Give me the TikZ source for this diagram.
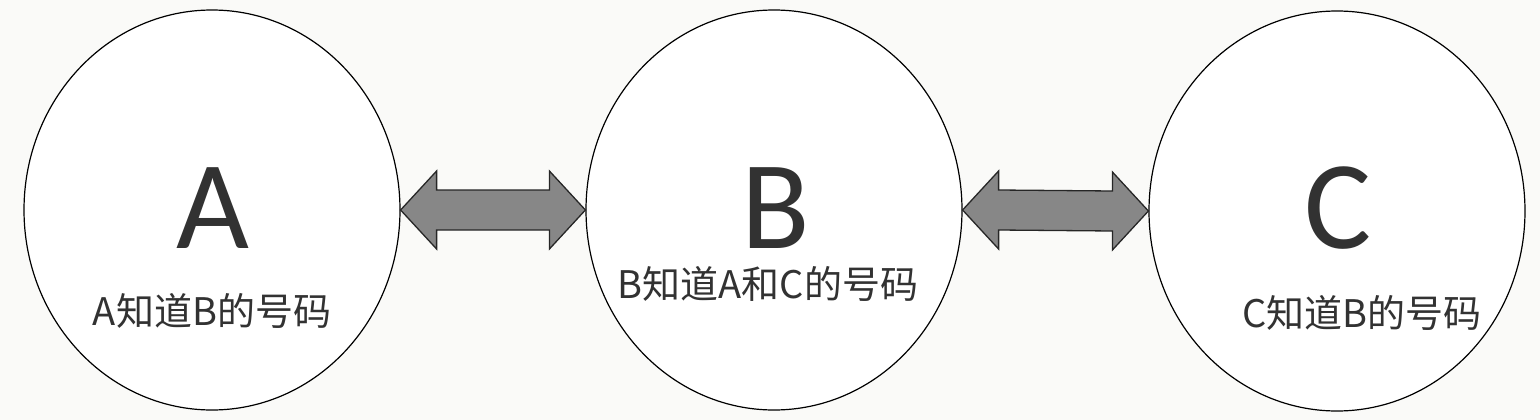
\documentclass[tikz,border=0pt]{standalone}
\usepackage{fontspec}
\setmainfont{Carlito}
\newfontfamily\cjk{Noto Sans CJK SC}
\usetikzlibrary{shapes.geometric}

\definecolor{paper}{RGB}{250,250,248}
\definecolor{inkgray}{RGB}{50,50,50}
\definecolor{arrowgray}{RGB}{135,135,135}

\tikzset{
    person/.style={draw=black, ellipse, line width=1.2pt, fill=white, minimum width=376pt, minimum height=400pt, inner sep=0pt},
    bigletter/.style={inner sep=0pt, text=inkgray, font=\fontsize{126}{126}\selectfont},
    knows/.style={inner sep=0pt, text=inkgray, font=\cjk\fontsize{38}{38}\selectfont},
    linkarrow/.style={draw=black!85, line width=1.3pt, fill=arrowgray, line join=miter}
}

% fat double arrow from the east side of #1 to the west side of #2
\newcommand{\phonelink}[2]{%
    \draw[linkarrow] (#1.east) -- ([shift={(36,-39)}]#1.east) -- ([shift={(36,-20)}]#1.east)
        -- ([shift={(-36,-20)}]#2.west) -- ([shift={(-36,-39)}]#2.west) -- (#2.west)
        -- ([shift={(-36,39)}]#2.west) -- ([shift={(-36,20)}]#2.west)
        -- ([shift={(36,20)}]#1.east) -- ([shift={(36,39)}]#1.east) -- cycle;}

\begin{document}
\begin{tikzpicture}[x=1pt, y=-1pt]
    % Background
    \fill[paper] (0,0) rectangle (1540,420);
    \useasboundingbox (0,0) rectangle (1540,420);

    % Circles
    \node[person] (A) at (212,210) {};
    \node[person] (B) at (774,210) {};
    \node[person] (C) at (1337,211) {};

    % Letters
    \node[bigletter] (Aletter) at (213,208) {A};
    \node[bigletter] (Bletter) at (776,208) {B};
    \node[bigletter] (Cletter) at (1338,208) {C};

    % Labels
    \node[knows] (Aknows) at (212,311) {A知道B的号码};
    \node[knows] (Bknows) at (768,284) {B知道A和C的号码};
    \node[knows] (Cknows) at (1362,313) {C知道B的号码};

    % Arrows
    \phonelink{A}{B}
    \phonelink{B}{C}
\end{tikzpicture}
\end{document}
